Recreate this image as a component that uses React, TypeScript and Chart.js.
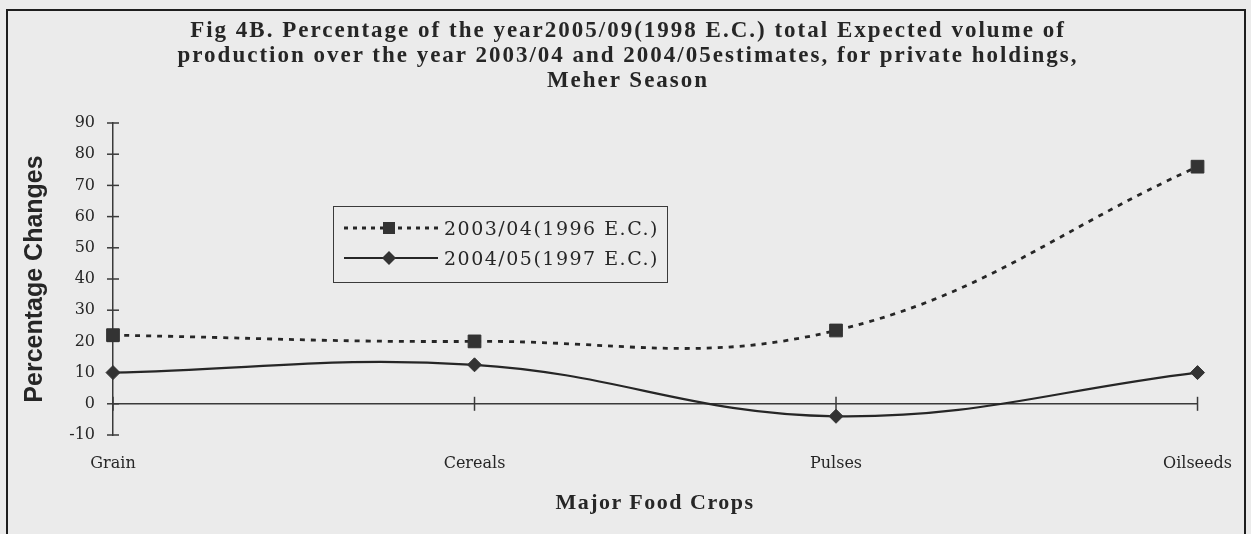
import React, { useEffect, useRef } from "react";
import { Chart, registerables } from "chart.js";

Chart.register(...registerables);

const categories = ["Grain", "Cereals", "Pulses", "Oilseeds"];
const series2003 = [22, 20, 23.5, 76];
const series2004 = [10, 12.5, -4, 10];
const seriesLabels = ["2003/04(1996 E.C.)", "2004/05(1997 E.C.)"];
const titleLines = [
  "Fig 4B. Percentage of the year2005/09(1998 E.C.) total Expected volume of",
  "production over the year 2003/04 and 2004/05estimates, for private holdings,",
  "Meher Season",
];
const yAxisTitle = "Percentage Changes";
const xAxisTitle = "Major Food Crops";
const yMin = -10;
const yMax = 90;
const yStep = 10;

const INK = "#262626";
const BG = "#ebebeb";

const axisPlugin = {
  id: "excelAxes",
  beforeDatasetsDraw(chart: any) {
    const { ctx, chartArea, scales } = chart;
    const x = scales.x;
    const y = scales.y;
    ctx.save();
    ctx.strokeStyle = "#3a3a3a";
    ctx.lineWidth = 1.5;
    y.ticks.forEach((t: any) => {
      const py = y.getPixelForValue(t.value);
      ctx.beginPath();
      ctx.moveTo(chartArea.left - 6, py);
      ctx.lineTo(chartArea.left + 6, py);
      ctx.stroke();
    });
    const zy = y.getPixelForValue(0);
    ctx.beginPath();
    ctx.moveTo(chartArea.left, zy);
    ctx.lineTo(chartArea.right, zy);
    ctx.stroke();
    categories.forEach((_c, i) => {
      const px = x.getPixelForValue(i);
      ctx.beginPath();
      ctx.moveTo(px, zy - 7);
      ctx.lineTo(px, zy + 7);
      ctx.stroke();
    });
    ctx.restore();
  },
};

export default function App() {
  const canvasRef = useRef<HTMLCanvasElement | null>(null);

  useEffect(() => {
    if (!canvasRef.current) return;
    const tickFont = { family: "'DejaVu Serif', serif", size: 16 };
    const chart = new Chart(canvasRef.current, {
      type: "line",
      data: {
        labels: categories,
        datasets: [
          {
            label: seriesLabels[0],
            data: series2003,
            borderColor: INK,
            borderWidth: 2.8,
            borderDash: [5, 6],
            tension: 0.4,
            pointStyle: "rect",
            pointRadius: 9,
            pointBackgroundColor: "#333",
            pointBorderColor: "#333",
            pointBorderWidth: 1,
            fill: false,
          },
          {
            label: seriesLabels[1],
            data: series2004,
            borderColor: INK,
            borderWidth: 2.2,
            tension: 0.4,
            pointStyle: "rectRot",
            pointRadius: 7,
            pointBackgroundColor: "#333",
            pointBorderColor: "#333",
            pointBorderWidth: 1,
            fill: false,
          },
        ],
      },
      options: {
        responsive: false,
        animation: false,
        devicePixelRatio: 1,
        layout: { padding: { left: 0, right: 50, top: 123, bottom: 0 } },
        plugins: {
          legend: { display: false },
          title: { display: false },
          tooltip: { enabled: false },
        },
        scales: {
          x: {
            type: "category",
            offset: false,
            grid: { display: false, drawTicks: false },
            border: { display: false },
            ticks: {
              font: tickFont,
              color: INK,
              padding: 19,
              maxRotation: 0,
              autoSkip: false,
            },
            afterFit: (s: any) => {
              s.height = 99;
            },
          },
          y: {
            min: yMin,
            max: yMax,
            ticks: { stepSize: yStep, font: tickFont, color: INK, padding: 18 },
            grid: { display: false, drawTicks: false },
            border: { display: true, color: "#3a3a3a", width: 1.5 },
            title: {
              display: true,
              text: yAxisTitle,
              font: { family: "'Liberation Sans', Arial, sans-serif", weight: "bold", size: 25 },
              color: INK,
              padding: { top: 20, bottom: 0 },
            },
            afterFit: (s: any) => {
              s.width = 113;
            },
          },
        },
      },
      plugins: [axisPlugin],
    } as any);
    return () => chart.destroy();
  }, []);

  return (
    <div
      style={{
        position: "absolute",
        left: 0,
        top: 0,
        width: 1251,
        height: 534,
        overflow: "hidden",
        background: BG,
      }}
    >
      <div
        style={{
          position: "absolute",
          left: 6,
          top: 9,
          width: 1236,
          height: 560,
          border: "2px solid #1e1e1e",
        }}
      />
      <canvas
        ref={canvasRef}
        width={1251}
        height={534}
        style={{ position: "absolute", left: 0, top: 0, width: 1251, height: 534 }}
      />
      <div
        style={{
          position: "absolute",
          left: 0,
          top: 17,
          width: 1256,
          textAlign: "center",
          fontFamily: "'Liberation Serif', serif",
          fontWeight: "bold",
          fontSize: 23,
          lineHeight: "25px",
          letterSpacing: "2px",
          color: INK,
          whiteSpace: "nowrap",
        }}
      >
        {titleLines.map((l, i) => (
          <div key={i}>{l}</div>
        ))}
      </div>
      <div
        style={{
          position: "absolute",
          left: 0,
          top: 488,
          width: 1310,
          textAlign: "center",
          fontFamily: "'Liberation Serif', serif",
          fontWeight: "bold",
          fontSize: 22,
          lineHeight: "28px",
          letterSpacing: "1.5px",
          color: INK,
          whiteSpace: "nowrap",
        }}
      >
        {xAxisTitle}
      </div>
      <div
        style={{
          position: "absolute",
          left: 333,
          top: 206,
          width: 333,
          height: 75,
          border: "1px solid #3a3a3a",
          fontFamily: "'DejaVu Serif', serif",
          fontSize: 19,
          letterSpacing: "1.5px",
          color: INK,
        }}
      >
        {seriesLabels.map((lab, i) => (
          <div
            key={i}
            style={{
              position: "absolute",
              left: 9,
              top: i === 0 ? 7 : 37,
              height: 28,
              display: "flex",
              alignItems: "center",
              whiteSpace: "nowrap",
            }}
          >
            <svg width={96} height={20} style={{ display: "block", marginRight: 5 }}>
              <line
                x1={1}
                y1={10}
                x2={95}
                y2={10}
                stroke={INK}
                strokeWidth={i === 0 ? 2.8 : 2.2}
                strokeDasharray={i === 0 ? "4 5" : undefined}
              />
              {i === 0 ? (
                <rect x={40} y={4} width={12} height={12} fill="#333" />
              ) : (
                <polygon points="46,3 53,10 46,17 39,10" fill="#333" />
              )}
            </svg>
            <span>{lab}</span>
          </div>
        ))}
      </div>
    </div>
  );
}
